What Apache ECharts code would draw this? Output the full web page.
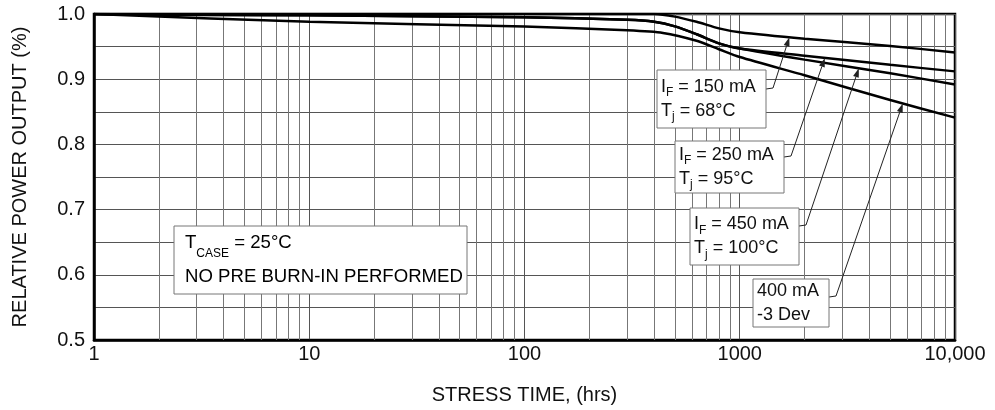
<!DOCTYPE html>
<html>
<head>
<meta charset="utf-8">
<script src="https://cdn.jsdelivr.net/npm/echarts@6/dist/echarts.min.js"></script>
<style>
html,body{margin:0;padding:0;background:#fff;}
#c{width:995px;height:410px;}
</style>
</head>
<body>
<div id="c"></div>
<script>
// ---- data ----
var xTicks = [1, 10, 100, 1000, 10000];
var xTickLabels = ['1', '10', '100', '1000', '10,000'];
var yTicks = [0.5, 0.6, 0.7, 0.8, 0.9, 1.0];
var minorX = [2,3,4,5,6,7,8,9,20,30,40,50,60,70,80,90,200,300,400,500,600,700,800,900,2000,3000,4000,5000,6000,7000,8000,9000];

var s150 = [[1,1.0],[400,1.0],[500,0.996],[630,0.988],[800,0.978],[1000,0.972],[2000,0.962],[5000,0.951],[10000,0.941]];
var s250 = [[1,1.0],[2,0.999],[10,0.998],[100,0.995],[300,0.991],[400,0.988],[500,0.981],[630,0.969],[800,0.955],[1000,0.947],[2000,0.936],[5000,0.922],[10000,0.912]];
var s450 = [[1,1.0],[2,0.999],[10,0.998],[100,0.995],[300,0.991],[400,0.988],[500,0.981],[630,0.969],[800,0.955],[1000,0.947],[2000,0.930],[5000,0.909],[10000,0.892]];
var s3dev = [[1,1.0],[10,0.988],[100,0.981],[300,0.975],[440,0.971],[630,0.959],[800,0.946],[1000,0.934],[2000,0.906],[5000,0.868],[10000,0.841]];

var chart = echarts.init(document.getElementById('c'), null, {renderer:'canvas'});
var FONT = '"Liberation Sans", Arial, sans-serif';
var TXT = '#111';

function lineSeries(name, data, extra) {
  var s = {
    name: name, type: 'line', data: data, symbol: 'none', smooth: 0.25,
    lineStyle: {color: '#000', width: 2.5}, z: 5, silent: true
  };
  if (extra) for (var k in extra) s[k] = extra[k];
  return s;
}

chart.setOption({
  animation: false,
  backgroundColor: '#fff',
  grid: {left: 94, right: 40, top: 14, bottom: 69, show: true, borderColor: '#000', borderWidth: 2.5, backgroundColor: 'transparent'},
  xAxis: {
    type: 'log', logBase: 10, min: 1, max: 10000,
    name: 'STRESS TIME, (hrs)', nameLocation: 'middle', nameGap: 45,
    nameTextStyle: {fontFamily: FONT, fontSize: 20, color: TXT},
    axisLine: {show: true, lineStyle: {color: '#000', width: 2.5}},
    axisTick: {show: false},
    axisLabel: {fontFamily: FONT, fontSize: 20, color: TXT, margin: 4,
      formatter: function (v) { var i = xTicks.indexOf(Math.round(v)); return i >= 0 ? xTickLabels[i] : ''; }},
    splitLine: {show: true, lineStyle: {color: '#555', width: 1}},
    minorTick: {show: false}, minorSplitLine: {show: false}
  },
  yAxis: {
    type: 'value', min: 0.5, max: 1.0, interval: 0.1,
    name: 'RELATIVE POWER OUTPUT (%)', nameLocation: 'middle', nameGap: 64,
    nameTextStyle: {fontFamily: FONT, fontSize: 20, color: TXT},
    axisLine: {show: true, lineStyle: {color: '#000', width: 2.5}},
    axisTick: {show: false},
    axisLabel: {fontFamily: FONT, fontSize: 20, color: TXT, margin: 9,
      formatter: function (v) { return v.toFixed(1); }},
    splitLine: {show: true, lineStyle: {color: '#555', width: 1}},
    minorTick: {show: false, splitNumber: 2},
    minorSplitLine: {show: true, lineStyle: {color: '#555', width: 1}}
  },
  series: [
    lineSeries('150', s150, {
      markLine: {silent: true, symbol: 'none', label: {show: false}, animation: false,
        lineStyle: {color: '#777', width: 1, type: 'solid'},
        data: minorX.map(function (v) { return {xAxis: v}; }), z: 1}
    }),
    lineSeries('250', s250),
    lineSeries('450', s450),
    lineSeries('3dev', s3dev)
  ]
});

// ---- annotations ----
function interp(data, t) {
  var lt = Math.log10(t);
  for (var i = 1; i < data.length; i++) {
    var a = data[i-1], b = data[i];
    if (t <= b[0]) {
      var la = Math.log10(a[0]), lb = Math.log10(b[0]);
      var f = (lt - la) / (lb - la);
      return a[1] + f * (b[1] - a[1]);
    }
  }
  return data[data.length-1][1];
}
function px(t, v) { return chart.convertToPixel({gridIndex: 0}, [t, v]); }

var baseText = {fontFamily: FONT, fontSize: 18, color: TXT, lineHeight: 24, verticalAlign: 'middle'};
var subText = {fontFamily: FONT, fontSize: 12, color: TXT, lineHeight: 12, verticalAlign: 'bottom'};
var rich = {a: baseText, s: subText};

var boxes = [
  {x: 657, y: 70, w: 109, h: 58, text: '{a|I}{s|F}{a| = 150 mA}\n{a|T}{s|j}{a| = 68°C}', lead: 89, tip: [1700, s150]},
  {x: 675, y: 141, w: 109, h: 52, text: '{a|I}{s|F}{a| = 250 mA}\n{a|T}{s|j}{a| = 95°C}', lead: 157, tip: [2485, s250]},
  {x: 690, y: 208, w: 109, h: 57, text: '{a|I}{s|F}{a| = 450 mA}\n{a|T}{s|j}{a| = 100°C}', lead: 226, tip: [3574, s450]},
  {x: 753, y: 279, w: 76, h: 48, text: '{a|400 mA}\n{a|-3 Dev}', lead: 297, tip: [5720, s3dev]}
];

var elements = [];
boxes.forEach(function (b) {
  var tp = px(b.tip[0], interp(b.tip[1], b.tip[0]));
  var sx = b.x + b.w, sy = b.lead;
  var kx = sx + 7, ky = sy - 1;
  var dx = tp[0] - kx, dy = tp[1] - ky, L = Math.sqrt(dx*dx + dy*dy);
  var ux = dx / L, uy = dy / L;
  var al = 9, aw = 3;
  var bx = tp[0] - ux*al, by = tp[1] - uy*al;
  elements.push({type: 'polyline', z: 20, shape: {points: [[sx, sy], [kx, ky], [bx, by]]},
    style: {stroke: '#222', lineWidth: 1, fill: null}});
  elements.push({type: 'polygon', z: 20, shape: {points: [[tp[0], tp[1]], [bx - uy*aw, by + ux*aw], [bx + uy*aw, by - ux*aw]]},
    style: {fill: '#222', stroke: null}});
  elements.push({type: 'rect', z: 20, shape: {x: b.x, y: b.y, width: b.w, height: b.h},
    style: {fill: '#fff', stroke: '#777', lineWidth: 1}});
  elements.push({type: 'text', z: 21, x: b.x + 4, y: b.y + b.h/2,
    style: {text: b.text, rich: rich, verticalAlign: 'middle', align: 'left', fontFamily: FONT, fontSize: 18, fill: TXT}});
});

// T_CASE box
elements.push({type: 'rect', z: 20, shape: {x: 174, y: 226, width: 293, height: 68},
  style: {fill: '#fff', stroke: '#777', lineWidth: 1}});
elements.push({type: 'text', z: 21, x: 185, y: 260,
  style: {text: '{a|T}{s|CASE}{a| = 25°C}\n{b|NO PRE BURN-IN PERFORMED}', verticalAlign: 'middle', align: 'left',
    rich: {a: {fontFamily: FONT, fontSize: 18.6, color: TXT, lineHeight: 34, verticalAlign: 'middle'},
           s: {fontFamily: FONT, fontSize: 12, color: TXT, lineHeight: 22, verticalAlign: 'bottom'},
           b: {fontFamily: FONT, fontSize: 18.6, color: TXT, lineHeight: 34, verticalAlign: 'middle'}}}});

chart.setOption({graphic: {elements: elements}});
</script>
</body>
</html>
